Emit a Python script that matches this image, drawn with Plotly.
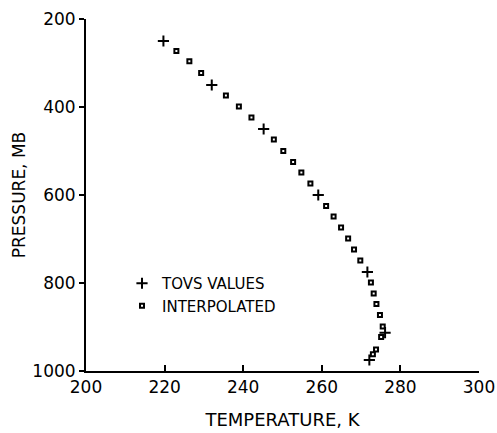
import plotly.graph_objects as go

# TOVS retrieval levels
tovs_temp = [219.7, 232.0, 245.2, 259.1, 271.6, 276.1, 272.1]
tovs_pres = [250, 350, 450, 600, 775, 913, 975]

# Interpolated profile
interp_temp = [223.0, 226.3, 229.3, 235.6, 238.9, 242.1, 247.8, 250.2, 252.7, 254.8,
               257.1, 261.1, 263.0, 264.9, 266.7, 268.2, 269.8, 272.5, 273.2, 273.9,
               274.8, 275.5, 275.1, 273.8, 273.0]
interp_pres = [273, 296, 323, 374, 399, 424, 474, 500, 525, 549,
               574, 625, 649, 674, 699, 724, 749, 799, 824, 848,
               873, 899, 923, 951, 962]

x_ticks = [200, 220, 240, 260, 280, 300]
y_ticks = [200, 400, 600, 800, 1000]

FONT = "DejaVu Sans, sans-serif"

fig = go.Figure()
fig.add_trace(go.Scatter(
    x=tovs_temp, y=tovs_pres, mode="markers", name="TOVS VALUES",
    marker=dict(symbol="cross-thin", size=8, color="black",
                line=dict(color="black", width=2)),
))
fig.add_trace(go.Scatter(
    x=interp_temp, y=interp_pres, mode="markers", name="INTERPOLATED",
    marker=dict(symbol="square-open", size=4, color="black",
                line=dict(color="black", width=2)),
))

fig.update_layout(
    width=497, height=433,
    margin=dict(l=86, r=18, t=19, b=62),
    paper_bgcolor="white", plot_bgcolor="white",
    font=dict(family=FONT, color="black", size=16),
    showlegend=True,
    legend=dict(x=(122 - 86) / 393, y=1 - (267 - 19) / 352, xanchor="left", yanchor="top",
                bgcolor="rgba(0,0,0,0)", font=dict(size=15, family=FONT),
                tracegroupgap=0, itemsizing="trace"),
    xaxis=dict(range=[200, 300], tickvals=x_ticks, ticktext=[str(v) for v in x_ticks],
               automargin=False,
               showgrid=False, zeroline=False, showline=True, linecolor="black",
               linewidth=2, ticks="inside", ticklen=6, tickwidth=1.5, tickcolor="black",
               tickfont=dict(size=17, family=FONT),
               title=dict(text="TEMPERATURE, K", font=dict(size=18, family=FONT), standoff=17)),
    yaxis=dict(range=[1000, 200], tickvals=y_ticks, ticktext=[str(v) for v in y_ticks],
               automargin=False,
               showgrid=False, zeroline=False, showline=True, linecolor="black",
               linewidth=2, ticks="outside", ticklen=5, tickwidth=1.5, tickcolor="black",
               tickfont=dict(size=17, family=FONT),
               title=dict(text="PRESSURE, MB", font=dict(size=17, family=FONT), standoff=2)),
)

fig.write_html("out.html")
